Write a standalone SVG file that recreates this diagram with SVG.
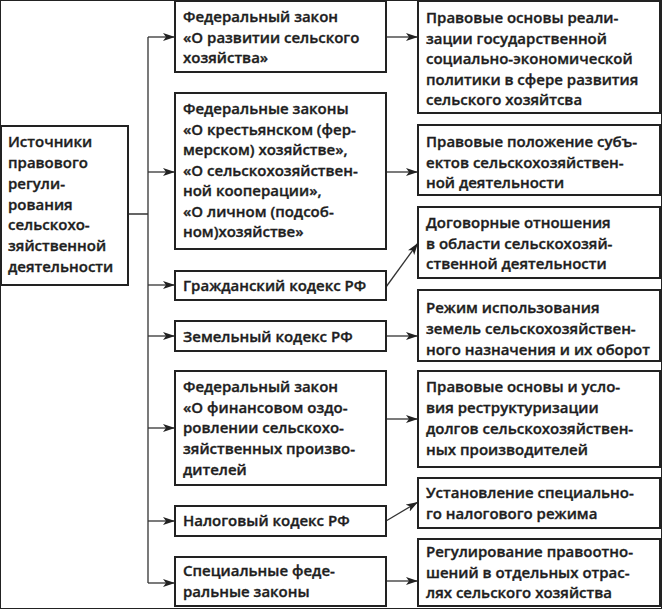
<svg xmlns="http://www.w3.org/2000/svg" width="662" height="609" viewBox="0 0 662 609">
<defs>
<marker id="ah" viewBox="0 0 12 8" refX="12" refY="4" markerWidth="12" markerHeight="8" markerUnits="userSpaceOnUse" orient="auto">
<path d="M0,0 L12,4 L0,8 L3,4 Z" fill="#222"/>
</marker>
</defs>
<style>
rect{fill:#fff;stroke:#222;stroke-width:2}
text{font-family:"Open Sans","DejaVu Sans",sans-serif;font-weight:600;font-size:15px;fill:#1e1e1e;stroke:#1e1e1e;stroke-width:0.35px}
.c{stroke:#333;stroke-width:1.3;fill:none}
.a{marker-end:url(#ah)}
</style>
<rect width="662" height="609" fill="#fff" stroke="none"/>
<g id="connectors">
<path class="c" d="M128,214 H148 M148,37 V583"/>
<path class="c a" d="M148,37 H175"/>
<path class="c a" d="M148,172 H175"/>
<path class="c a" d="M148,285 H175"/>
<path class="c a" d="M148,336 H175"/>
<path class="c a" d="M148,428 H175"/>
<path class="c a" d="M148,521 H175"/>
<path class="c a" d="M148,583 H175"/>
<path class="c a" d="M386,37 H418"/>
<path class="c a" d="M386,172 H418"/>
<path class="c a" d="M386,287 L418,243"/>
<path class="c a" d="M386,336 H418"/>
<path class="c a" d="M386,419 H418"/>
<path class="c a" d="M386,521 L418,502"/>
<path class="c a" d="M386,581 H418"/>
</g>
<g id="src">
<rect x="1" y="126" width="127" height="159"/>
<text x="8" y="147">Источники</text>
<text x="8" y="168">правового</text>
<text x="8" y="189">регули-</text>
<text x="8" y="210">рования</text>
<text x="8" y="230">сельскохо-</text>
<text x="8" y="251">зяйственной</text>
<text x="8" y="272">деятельности</text>
</g>
<g id="m1">
<rect x="175" y="1" width="211" height="71"/>
<text x="183" y="22">Федеральный закон</text>
<text x="183" y="43">«О развитии сельского</text>
<text x="183" y="63">хозяйства»</text>
</g>
<g id="m2">
<rect x="175" y="93" width="211" height="156"/>
<text x="183" y="114">Федеральные законы</text>
<text x="183" y="135">«О крестьянском (фер-</text>
<text x="183" y="155">мерском) хозяйстве»,</text>
<text x="183" y="176">«О сельскохозяйствен-</text>
<text x="183" y="196">ной кооперации»,</text>
<text x="183" y="217">«О личном (подсоб-</text>
<text x="183" y="237">ном)хозяйстве»</text>
</g>
<g id="m3">
<rect x="175" y="271" width="211" height="29"/>
<text x="183" y="291">Гражданский кодекс РФ</text>
</g>
<g id="m4">
<rect x="175" y="321" width="211" height="30"/>
<text x="183" y="342">Земельный кодекс РФ</text>
</g>
<g id="m5">
<rect x="175" y="371" width="211" height="114"/>
<text x="183" y="392">Федеральный закон</text>
<text x="183" y="413">«О финансовом оздо-</text>
<text x="183" y="433">ровлении сельскохо-</text>
<text x="183" y="454">зяйственных произво-</text>
<text x="183" y="475">дителей</text>
</g>
<g id="m6">
<rect x="175" y="506" width="211" height="30"/>
<text x="183" y="526">Налоговый кодекс РФ</text>
</g>
<g id="m7">
<rect x="175" y="557" width="211" height="49"/>
<text x="183" y="576">Специальные феде-</text>
<text x="183" y="597">ральные законы</text>
</g>
<g id="r1">
<rect x="418" y="1" width="242" height="112"/>
<text x="426" y="23">Правовые основы реали-</text>
<text x="426" y="44">зации государственной</text>
<text x="426" y="64">социально-экономической</text>
<text x="426" y="85">политики в сфере развития</text>
<text x="426" y="105">сельского хозяйтсва</text>
</g>
<g id="r2">
<rect x="418" y="125" width="242" height="70"/>
<text x="426" y="147">Правовые положение субъ-</text>
<text x="426" y="168">ектов сельскохозяйствен-</text>
<text x="426" y="188">ной деятельности</text>
</g>
<g id="r3">
<rect x="418" y="207" width="242" height="71"/>
<text x="426" y="228">Договорные отношения</text>
<text x="426" y="249">в области сельскохозяй-</text>
<text x="426" y="269">ственной деятельности</text>
</g>
<g id="r4">
<rect x="418" y="290" width="242" height="71"/>
<text x="426" y="313">Режим использования</text>
<text x="426" y="334">земель сельскохозяйствен-</text>
<text x="426" y="355">ного назначения и их оборот</text>
</g>
<g id="r5">
<rect x="418" y="371" width="242" height="96"/>
<text x="426" y="392">Правовые основы и усло-</text>
<text x="426" y="413">вия реструктуризации</text>
<text x="426" y="434">долгов сельскохозяйствен-</text>
<text x="426" y="455">ных производителей</text>
</g>
<g id="r6">
<rect x="418" y="478" width="242" height="50"/>
<text x="426" y="498">Установление специально-</text>
<text x="426" y="519">го налогового режима</text>
</g>
<g id="r7">
<rect x="418" y="539" width="242" height="67"/>
<text x="426" y="557">Регулирование правоотно-</text>
<text x="426" y="578">шений в отдельных отрас-</text>
<text x="426" y="598">лях сельского хозяйства</text>
</g>
</svg>
